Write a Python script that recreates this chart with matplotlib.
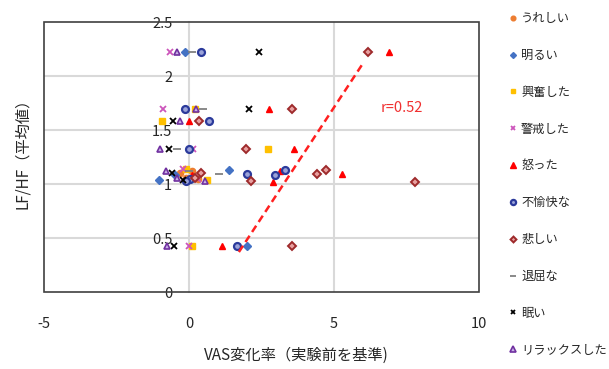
import matplotlib
matplotlib.use("Agg")
import matplotlib.pyplot as plt
from matplotlib.lines import Line2D
from matplotlib.patches import Rectangle

plt.rcParams['font.family'] = ['Noto Sans CJK JP', 'DejaVu Sans']
plt.rcParams['axes.unicode_minus'] = False

# ---- data ----
labels = ['うれしい', '明るい', '興奮した', '警戒した', '怒った', '不愉快な', '悲しい', '退屈な', '眠い', 'リラックスした']

ureshii_x = [-0.3, 0.1, 0.3, -0.1]
ureshii_y = [1.10, 1.12, 1.05, 1.06]
akarui_x = [-0.14, -1.03, -0.5, 1.38, 2.0]
akarui_y = [2.22, 1.04, 1.08, 1.13, 0.43]
kofun_x = [0.2, -0.93, 2.72, 0.62, -0.1, 0.1]
kofun_y = [1.69, 1.58, 1.32, 1.04, 1.14, 0.43]
keikai_x = [-0.66, -0.9, 0.14, -0.2, 0.3, 0.0]
keikai_y = [2.22, 1.69, 1.32, 1.14, 1.05, 0.43]
ikari_x = [6.9, 2.76, 0.0, 3.62, 3.14, 2.9, 5.28, 1.14, 0.1]
ikari_y = [2.22, 1.69, 1.58, 1.32, 1.12, 1.02, 1.09, 0.43, 1.08]
fuyukai_x = [0.41, -0.14, 0.69, 0.0, 2.0, 2.97, 3.31, 1.66, 0.05, -0.1]
fuyukai_y = [2.22, 1.69, 1.58, 1.32, 1.09, 1.08, 1.13, 0.43, 1.05, 1.03]
kanashii_x = [6.17, 3.55, 0.34, 1.97, 2.14, 4.41, 4.72, 7.79, 3.55, 0.4, 0.2]
kanashii_y = [2.22, 1.69, 1.58, 1.32, 1.03, 1.09, 1.13, 1.02, 0.43, 1.10, 1.06]
taikutsu_x = [0.1, 0.48, -0.41, 1.03, 0.0]
taikutsu_y = [2.22, 1.69, 1.32, 1.09, 1.12]
nemui_x = [2.41, 2.07, -0.55, -0.69, -0.52, -0.6, -0.2]
nemui_y = [2.22, 1.69, 1.58, 1.32, 0.43, 1.10, 1.04]
relax_x = [-0.41, 0.24, -0.31, -1.0, -0.76, -0.8, -0.4, 0.55]
relax_y = [2.22, 1.69, 1.58, 1.32, 0.43, 1.12, 1.06, 1.03]

trend_x = [1.72, 6.03]
trend_y = [0.37, 2.13]
r_text = 'r=0.52'

xticks = [-5, 0, 5, 10]
yticks = [0, 0.5, 1, 1.5, 2, 2.5]
ytick_labels = ['0', '0.5', '1', '1.5', '2', '2.5']

series = [
    (ureshii_x, ureshii_y, dict(marker='o', color='#ED7D31', mec='#ED7D31', ms=4.5)),
    (akarui_x, akarui_y, dict(marker='D', color='#4472C4', mec='#4472C4', ms=4)),
    (kofun_x, kofun_y, dict(marker='s', color='#FFC000', mec='#FFC000', ms=4.5)),
    (keikai_x, keikai_y, dict(marker='x', color='#CC55BB', mec='#CC55BB', ms=4.5, mew=1.3)),
    (ikari_x, ikari_y, dict(marker='^', color='#FF0000', mec='#FF0000', ms=5)),
    (fuyukai_x, fuyukai_y, dict(marker='o', color='#9BA3D9', mec='#2B3A9B', ms=5, mew=1.6)),
    (kanashii_x, kanashii_y, dict(marker='D', color='#E8A0A0', mec='#9E2A2B', ms=4, mew=1.4)),
    (taikutsu_x, taikutsu_y, dict(marker='_', color='#808080', mec='#808080', ms=6, mew=1.3)),
    (nemui_x, nemui_y, dict(marker='x', color='#000000', mec='#000000', ms=4.5, mew=1.3)),
    (relax_x, relax_y, dict(marker='^', color='#C9B3E6', mec='#7030A0', ms=5, mew=1.2)),
]

W, H = 609, 369
fig = plt.figure(figsize=(W / 100, H / 100), dpi=100)
ax = fig.add_axes([44 / W, 1 - 292 / H, (479 - 44) / W, (292 - 22) / H])

ax.set_xlim(-5, 10)
ax.set_ylim(0, 2.5)

# grid
for yv in [0.5, 1, 1.5, 2]:
    ax.axhline(yv, color='#D9D9D9', lw=1.5, zorder=0)
ax.axvline(5, color='#D9D9D9', lw=1.5, zorder=0)

# y axis crossing at x=0
ax.spines['left'].set_position(('data', 0))
ax.spines['left'].set_color('#D9D9D9')
ax.spines['left'].set_linewidth(1.5)
ax.spines['left'].set_zorder(0)
for s in ['top', 'right', 'bottom']:
    ax.spines[s].set_visible(False)
ax.add_patch(Rectangle((0, 0), 1, 1, transform=ax.transAxes, fill=False,
                       edgecolor='#404040', lw=1.2, zorder=5, clip_on=False))

ax.set_yticks(yticks)
ax.set_yticklabels(ytick_labels)
ax.set_xticks(xticks)
ax.tick_params(axis='y', length=0, pad=12, labelsize=10.5, labelcolor='#262626')
ax.tick_params(axis='x', length=0, pad=18, labelsize=10.5, labelcolor='#262626')

handles = []
for (xs, ys, st), lab in zip(series, labels):
    ax.plot(xs, ys, linestyle='none', label=lab, zorder=3, **st)
    handles.append(Line2D([], [], linestyle='none', label=lab,
                          **{**st, 'ms': st['ms'] * 0.75}))

ax.plot(trend_x, trend_y, color='#FF2020', lw=1.8, ls=(0, (3, 1.8)), zorder=4)
ax.text(6.6, 1.70, r_text, color='#F03030', fontsize=10.5, va='center', ha='left')

fig.text(296 / W, 1 - 355 / H, 'VAS変化率（実験前を基準)', ha='center', va='center',
         fontsize=11, color='#262626')
fig.text(23 / W, 1 - 150 / H, 'LF/HF（平均値）', ha='center', va='center',
         rotation=90, fontsize=11, color='#262626')

leg = fig.legend(handles=handles, loc='upper left', bbox_to_anchor=(504 / W, 1 - 6 / H),
                 frameon=False, fontsize=8.8, labelspacing=1.95, handlelength=0.5,
                 handletextpad=0.4, borderpad=0)
for t in leg.get_texts():
    t.set_color('#262626')

fig.savefig('out.png', dpi=100)
